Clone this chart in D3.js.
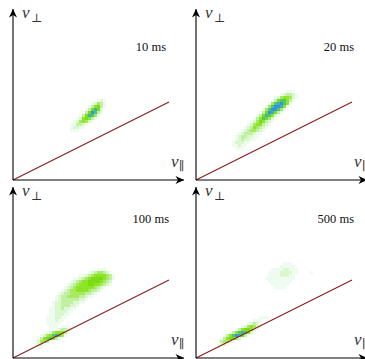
<!DOCTYPE html>
<html>
<head>
<meta charset="utf-8">
<script src="https://cdn.jsdelivr.net/npm/d3@7/dist/d3.min.js"></script>
<style>
  html, body { margin: 0; padding: 0; background: #fff; }
  svg { display: block; }
</style>
</head>
<body>
<script>
// Snapshot times shown in each panel
const times = ["10 ms", "20 ms", "100 ms", "500 ms"];

// Loss-cone boundary v_perp = tan(theta) v_par, as two end points (bin units)
const lossCone = [[0, 0], [52, 26]];

// Velocity-space density, binned; one digit per bin (0 = empty, 9 = peak).
// Each grid: first column index, top row index, rows from top to bottom.
const density10 = {
  col0: 19, rowTop: 26, rows: [
    "000000000121",
    "000000012431",
    "000000135631",
    "000001368620",
    "000013697310",
    "000136874100",
    "001256531000",
    "012454210000",
    "113321000000",
    "122110000000",
    "111000000000"
  ]
};

const density20 = {
  col0: 12, rowTop: 29, rows: [
    "0000000000000000001110",
    "0000000000000000123321",
    "0000000000000012455421",
    "0000000000000136775310",
    "0000000000001478975100",
    "0000000000014799851000",
    "0000000000147997410000",
    "0000000001369863100000",
    "0000000013687521000000",
    "0000000135764210000000",
    "0000001246532100000000",
    "0000012455321000000000",
    "0000123543210000000000",
    "0001234432100000000000",
    "0012333211000000000000",
    "0123322110000000000000",
    "0123221100000000000000",
    "1222110000000000000000",
    "1121100000000000000000",
    "0111000000000000000000"
  ]
};

const density100 = {
  col0: 9, rowTop: 29, rows: [
    "000000000000000000011100000",
    "000000000000000012344321000",
    "000000000000011234555543100",
    "000000000001123456666543100",
    "000000000012345566665432000",
    "000000000123455566554321000",
    "000000001234555555432100000",
    "000000012344555543321000000",
    "000000123344444332100000000",
    "000001233444433211000000000",
    "000001233333322100000000000",
    "000012233332211000000000000",
    "000012233322100000000000000",
    "000112232211000000000000000",
    "000112222110000000000000000",
    "000112221100000000000000000",
    "001112211000000000000000000",
    "001112110000000000000000000",
    "001111100000000000000000000",
    "000111000000000000000000000"
  ]
};

const density100Trapped = {
  col0: 7, rowTop: 10, rows: [
    "0000000001110",
    "0000000123321",
    "0000124555310",
    "0012457864100",
    "0135675310000",
    "1244310000000",
    "1221000000000",
    "0110000000000"
  ]
};

const density500 = {
  col0: 6, rowTop: 13, rows: [
    "000000000000000111",
    "000000000000011100",
    "000000000001232100",
    "000000000124542100",
    "000000013566521000",
    "000001357875210000",
    "000135798631000000",
    "001356642000000000",
    "013442100000000000",
    "012210000000000000",
    "010000000000000000"
  ]
};

const density500Halo = {
  col0: 23, rowTop: 31, rows: [
    "0000001110000000",
    "0000011111000000",
    "0011112211100000",
    "0111122221100001",
    "0111122211000000",
    "1111111111000000",
    "0111111110000000",
    "0011111100000000",
    "0001111000000000"
  ]
};

const panelDensity = [
  [density10],
  [density20],
  [density100, density100Trapped],
  [density500, density500Halo]
];

// Colour for each density level
const levelColors = ["#ffffff", "#eefcef", "#dcf7d0", "#c2f0a2", "#a6ea62",
                     "#8ce626", "#78dc18", "#4cc868", "#3cb0b8", "#3890e8"];

// Page layout: axis origin of each panel and text placement
const W = 365, H = 359;
const origins = [[13, 180], [196, 180], [13, 358], [196, 358]];
const timeLabelPos = [[166, 51], [354, 51], [169, 223], [354, 223]];
const axisLen = 171;     // pixels from origin to arrow tip
const axisMax = 57;      // bins spanned by an axis

const svg = d3.select("body").append("svg")
  .attr("width", W).attr("height", H)
  .attr("viewBox", `0 0 ${W} ${H}`);

const color = d3.scaleOrdinal().domain(d3.range(10)).range(levelColors);

const defs = svg.append("defs");
// Arrowhead marker (stealth style)
defs.append("marker")
  .attr("id", "arrow")
  .attr("viewBox", "-9 -5 10 10")
  .attr("refX", 0).attr("refY", 0)
  .attr("markerWidth", 10).attr("markerHeight", 10)
  .attr("markerUnits", "userSpaceOnUse")
  .attr("orient", "auto")
  .append("path")
  .attr("d", "M0,0 L-8.5,-4 L-6,0 L-8.5,4 Z")
  .attr("fill", "#000");

// slight softening of the binned density
defs.append("filter").attr("id", "soft")
  .attr("x", "-10%").attr("y", "-10%").attr("width", "120%").attr("height", "120%")
  .append("feGaussianBlur").attr("stdDeviation", 0.55);

origins.forEach(([ox, oy], p) => {
  const x = d3.scaleLinear().domain([0, axisMax]).range([ox, ox + axisLen]);
  const y = d3.scaleLinear().domain([0, axisMax]).range([oy, oy - axisLen]);
  const g = svg.append("g");

  // density bins
  const cells = [];
  panelDensity[p].forEach(grid => {
    grid.rows.forEach((row, j) => {
      const r = grid.rowTop - j;
      row.split("").forEach((ch, i) => {
        const lv = +ch;
        if (lv > 0) cells.push({ c: grid.col0 + i, r, lv });
      });
    });
  });
  g.append("g").attr("filter", "url(#soft)")
    .selectAll("rect").data(cells).join("rect")
    .attr("x", d => x(d.c))
    .attr("y", d => y(d.r + 1))
    .attr("width", d => x(d.c + 1) - x(d.c) + 0.2)
    .attr("height", d => y(d.r) - y(d.r + 1) + 0.2)
    .attr("fill", d => color(d.lv))
    .attr("shape-rendering", "crispEdges");

  // loss-cone boundary
  g.append("path")
    .attr("d", d3.line().x(d => x(d[0])).y(d => y(d[1]))(lossCone))
    .attr("stroke", "#8c1c1c").attr("stroke-width", 1.1).attr("fill", "none");

  // axes with arrowheads
  g.append("line")
    .attr("x1", x(0)).attr("y1", y(0)).attr("x2", x(axisMax)).attr("y2", y(0))
    .attr("stroke", "#000").attr("stroke-width", 1.1)
    .attr("marker-end", "url(#arrow)");
  g.append("line")
    .attr("x1", x(0)).attr("y1", y(0)).attr("x2", x(0)).attr("y2", y(axisMax))
    .attr("stroke", "#000").attr("stroke-width", 1.1)
    .attr("marker-end", "url(#arrow)");

  // axis labels
  const vperp = g.append("text")
    .attr("x", x(0) + 9).attr("y", y(0) - 162)
    .attr("font-family", "'Liberation Serif', 'DejaVu Serif', serif")
    .attr("font-size", 17).attr("fill", "#333");
  vperp.append("tspan").attr("font-style", "italic").text("v");
  vperp.append("tspan").attr("font-size", 12).attr("dy", 4).attr("dx", 1.5).text("⊥");

  const vpar = g.append("text")
    .attr("x", x(0) + 158).attr("y", y(0) - 13)
    .attr("font-family", "'Liberation Serif', 'DejaVu Serif', serif")
    .attr("font-size", 17).attr("fill", "#333");
  vpar.append("tspan").attr("font-style", "italic").text("v");
  vpar.append("tspan").attr("font-size", 12).attr("dy", 3).attr("dx", 0.5).text("∥");

  // snapshot time
  g.append("text")
    .attr("x", timeLabelPos[p][0]).attr("y", timeLabelPos[p][1])
    .attr("text-anchor", "end")
    .attr("font-family", "'Liberation Serif', 'DejaVu Serif', serif")
    .attr("font-size", 12.5).attr("fill", "#111")
    .text(times[p]);
});
</script>
</body>
</html>
